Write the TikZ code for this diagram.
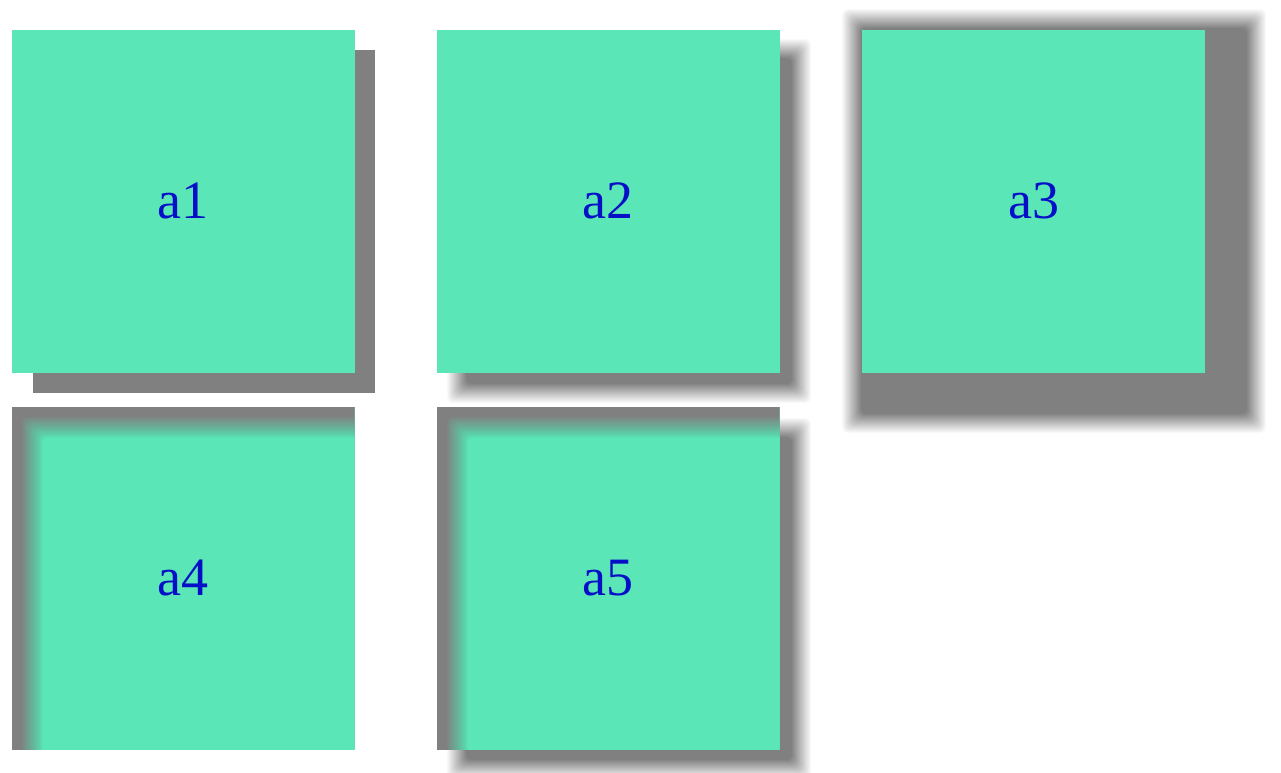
\documentclass[tikz,border=0pt]{standalone}
\usepackage{fontspec}
\setmainfont{Liberation Serif}
\usetikzlibrary{calc}
\definecolor{boxgreen}{RGB}{90,230,182}
\definecolor{shadowgray}{RGB}{128,128,128}
\definecolor{txtblue}{RGB}{5,15,200}

\newcommand\blurbox[6]{%
  \foreach \k in {0,...,23}{%
    \pgfmathsetmacro\dd{#5/2-\k*#5/24}%
    \pgfmathsetmacro\op{1/(24-\k)}%
    \pgfmathsetmacro\xa{#1-\dd}\pgfmathsetmacro\ya{#2-\dd}%
    \pgfmathsetmacro\xb{#3+\dd}\pgfmathsetmacro\yb{#4+\dd}%
    \fill[#6,fill opacity=\op,rounded corners=6pt] (\xa,\ya) rectangle (\xb,\yb);
  }}

\tikzset{
  sqbox/.style={fill=boxgreen, text=txtblue, minimum width=343pt, minimum height=343pt,
    inner sep=0pt, outer sep=0pt, font=\fontsize{54}{60}\selectfont},
  insetshadow/.style={path picture={
    \fill[shadowgray] (path picture bounding box.north west) rectangle (path picture bounding box.south east);
    \foreach \k in {0,...,23}{
      \pgfmathsetmacro\ee{10+\k*22/24}
      \pgfmathsetmacro\op{1/(24-\k)}
      \fill[boxgreen,fill opacity=\op,rounded corners=6pt] ($(path picture bounding box.north west)+(\ee,\ee)$) rectangle ($(path picture bounding box.south east)+(50,50)$);
    }}}
}

\begin{document}
\begin{tikzpicture}[x=1pt,y=-1pt]
\useasboundingbox (0,0) rectangle (1281,772);
% a1: hard offset shadow
\fill[shadowgray] (33,50) rectangle (375,393);
\node[sqbox] (a1) at (183,201) {a1};
% a2: blurred offset shadow
\blurbox{457}{49}{801}{393}{20}{shadowgray}
\node[sqbox] (a2) at (608,201) {a2};
% a3: blurred offset shadow with spread
\blurbox{852}{19}{1256}{423}{20}{shadowgray}
\node[sqbox] (a3) at (1033.5,201) {a3};
% a4: inset shadow
\node[sqbox,insetshadow] (a4) at (183,578) {a4};
% a5: inset shadow and outer blurred shadow
\blurbox{457}{428}{801}{769}{20}{shadowgray}
\node[sqbox,insetshadow] (a5) at (608,578) {a5};
\end{tikzpicture}
\end{document}
